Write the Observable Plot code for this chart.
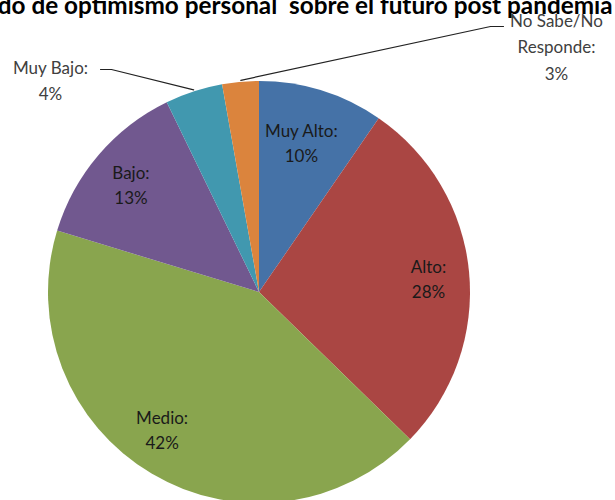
<!DOCTYPE html>
<html><head><meta charset="utf-8">
<script src="https://cdn.jsdelivr.net/npm/d3@7"></script>
<script src="https://cdn.jsdelivr.net/npm/@observablehq/plot@0.6"></script>
<style>
html,body{margin:0;padding:0;background:#fff;overflow:hidden;}
#chart{position:relative;width:615px;height:500px;overflow:hidden;}
</style>
</head><body>
<div id="chart"></div>
<script>
const title = "Grado de optimismo personal  sobre el futuro post pandemia";
const categories = ["Muy Alto", "Alto", "Medio", "Bajo", "Muy Bajo", "No Sabe/No Responde"];
const values = [9.6, 27.7, 42.4, 13.1, 4.4, 2.8];
const pctLabels = ["10%", "28%", "42%", "13%", "4%", "3%"];
const labelLines = [["Muy Alto:", "10%"], ["Alto:", "28%"], ["Medio:", "42%"], ["Bajo:", "13%"], ["Muy Bajo:", "4%"], ["No Sabe/No", "Responde:", "3%"]];
const colors = ["#4572A7", "#AA4643", "#89A54E", "#71588F", "#4198AF", "#DB843D"];

const W = 615, H = 500;
const cx = 259, cy = 292, R = 211;
const outside = [false, false, false, false, true, true];
// small label nudges (best-fit placement)
const nudge = {0: [-8, 12], 1: [2, 4], 2: [-12, -6], 3: [-1, 2]};

const pie = d3.pie().sort(null).value(d => d.value)(categories.map((c, i) => ({c, value: values[i], i})));
const slices = pie.map(p => {
  const mid = (p.startAngle + p.endAngle) / 2;
  return {...p.data, start: p.startAngle, end: p.endAngle, mid};
});

const insideLabels = [];
slices.forEach(s => {
  if (outside[s.i]) return;
  const r = 0.795 * R;
  const [nx, ny] = nudge[s.i] || [0, 0];
  const lx = cx + r * Math.sin(s.mid) + nx, ly = cy - r * Math.cos(s.mid) + ny;
  const lines = labelLines[s.i];
  lines.forEach((t, k) => insideLabels.push({x: lx, y: ly + (k - (lines.length - 1) / 2) * 25, t}));
});

const outsideSpec = {4: {lx: 50, ly: 68, bend: [111, 69], start: [100, 69]},
                     5: {lx: 556, ly: 21, bend: [490, 26], start: [503, 26]}};
const outsideLabels = [], leaders = [];
slices.forEach(s => {
  if (!outside[s.i]) return;
  const sp = outsideSpec[s.i];
  labelLines[s.i].forEach((t, k) => outsideLabels.push({x: sp.lx, y: sp.ly + k * 26.5, t}));
  const ax = cx + (R + 2) * Math.sin(s.mid), ay = cy - (R + 2) * Math.cos(s.mid);
  leaders.push({k: s.i, x: sp.start[0], y: sp.start[1]}, {k: s.i, x: sp.bend[0], y: sp.bend[1]}, {k: s.i, x: ax, y: ay});
});

const pieMark = (index, scales) => {
  const g = d3.create("svg:g");
  const arc = d3.arc().innerRadius(0).outerRadius(scales.x(cx + R) - scales.x(cx));
  g.attr("transform", `translate(${scales.x(cx)},${scales.y(cy)})`);
  g.selectAll("path").data(slices).join("path")
    .attr("d", d => arc({startAngle: d.start, endAngle: d.end}))
    .attr("fill", d => colors[d.i]);
  return g.node();
};

const plot = Plot.plot({
  width: W, height: H,
  margin: 0,
  x: {domain: [0, W], range: [0, W], axis: null},
  y: {domain: [0, H], range: [0, H], axis: null},
  style: {fontFamily: "Lato, 'Liberation Sans', sans-serif", background: "#fff"},
  marks: [
    pieMark,
    Plot.line(leaders, {x: "x", y: "y", z: "k", stroke: "#222", strokeWidth: 1.2, curve: "linear"}),
    Plot.text(insideLabels, {x: "x", y: "y", text: "t", fontSize: 17, fill: "#1a1a1a", textAnchor: "middle"}),
    Plot.text(outsideLabels, {x: "x", y: "y", text: "t", fontSize: 17, fill: "#404040", textAnchor: "middle"}),
    Plot.text([title], {x: () => 612, y: () => 6, text: d => d, fontSize: 24.3, fontWeight: "bold", fill: "#000", textAnchor: "end", lineAnchor: "middle"})
  ]
});
plot.querySelectorAll("text").forEach(t => t.setAttribute("xml:space", "preserve"));
plot.style.whiteSpace = "pre";
document.getElementById("chart").appendChild(plot);
</script>
</body></html>
